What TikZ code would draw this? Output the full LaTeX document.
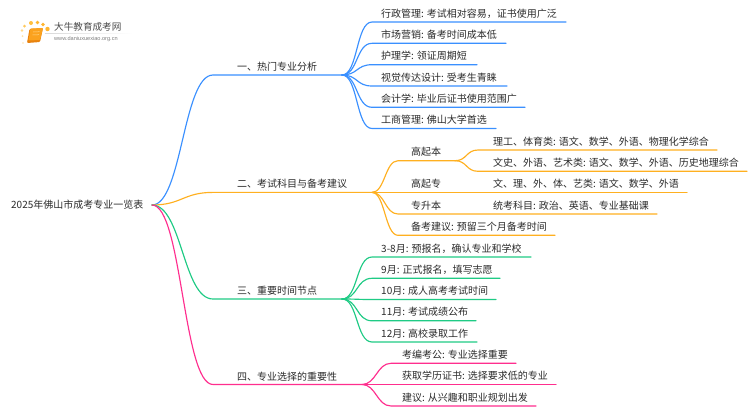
\documentclass[tikz,border=0pt]{standalone}
\usepackage{fontspec}
\setmainfont{Noto Sans CJK SC}
\newfontfamily\logourl{Liberation Sans}
\definecolor{cblue}{HTML}{3A90FF}
\definecolor{corange}{HTML}{FFB020}
\definecolor{cgreen}{HTML}{1FCB85}
\definecolor{cpink}{HTML}{FF2E8E}
\definecolor{ctext}{HTML}{2B2B2B}
\definecolor{bookdark}{HTML}{E8820E}
\definecolor{booklight}{HTML}{FBA21E}
\definecolor{bookline}{HTML}{FFD78A}
\tikzset{
  lbl/.style={anchor=west,inner sep=0pt,font=\fontsize{10}{12}\selectfont,text=ctext},
  conn/.style={line width=1.15pt,line cap=round,line join=round}
}
% parent, name, curve end x, text x, line end x, y, colour, control offset, text
\newcommand{\leafitem}[9]{%
  \coordinate (#2s) at (#3,#6);
  \coordinate (#2e) at (#5,#6);
  \node[lbl] (#2) at (#4,#6-8.7) {#9};
  \draw[conn,#7] (#1) .. controls +(#8,0) and +(-#8,0) .. (#2s) -- (#2e);
}
\begin{document}
\begin{tikzpicture}[x=1pt,y=-1pt]
\useasboundingbox (0,0) rectangle (750,410);
\fill[white] (0,0) rectangle (750,410);
% logo
\foreach \px/\py/\pr/\pc in {22/30.5/1.3/FFD98A,22.5/36/1/FFE2A8,23/43/0.9/FFE2A8,24.5/26/1.5/FFC95C,31/23/2/FFC040,37.5/22.5/1.9/FFB52E,43/24.5/1.9/FFB52E,47.5/29/2.2/FFB52E}{
  \definecolor{dc}{HTML}{\pc}
  \fill[dc] (\px,\py) circle (\pr);
}
\fill[bookdark,rounded corners=1pt] (29.5,29) -- (43,28) -- (40,42) -- (27,43) -- cycle;
\fill[booklight,rounded corners=0.8pt] (30.5,28.5) -- (43,28) -- (40,40) -- (28.5,40.5) -- cycle;
\draw[bookline,line width=0.5pt] (33,32) -- (39.5,31.7) (32.5,35) -- (39,34.7);
\node[inner sep=0pt,anchor=west,font=\fontsize{9.6}{11}\selectfont,text=ctext!85!white] (logoname) at (54,27) {大牛教育成考网};
\shade[left color=gray!30,right color=white] (45,33) rectangle (133,33.5);
\node[inner sep=0pt,anchor=west,font=\logourl\fontsize{5.6}{7}\selectfont,text=gray] (logourl) at (54,38.7) {www.daniuxuexiao.org.cn};
% root
\node[lbl] (root) at (11,205) {2025年佛山市成考专业一览表};
\coordinate (rootp) at (152,205);
% branch 1
\coordinate (b1s) at (213,75); \coordinate (b1e) at (342,75);
\node[lbl] (b1) at (237,67) {一、热门专业分析};
\draw[conn,cblue] (rootp) .. controls +(30,0) and +(-30,0) .. (b1s) -- (b1e);
\leafitem{b1e}{a1}{372}{381}{566}{22}{cblue}{16}{行政管理: 考试相对容易，证书使用广泛}
\leafitem{b1e}{a2}{372}{381}{506}{43.3}{cblue}{16}{市场营销: 备考时间成本低}
\leafitem{b1e}{a3}{372}{381}{477}{64.7}{cblue}{16}{护理学: 领证周期短}
\leafitem{b1e}{a4}{372}{381}{507}{86}{cblue}{16}{视觉传达设计: 受考生青睐}
\leafitem{b1e}{a5}{372}{381}{525}{107.3}{cblue}{16}{会计学: 毕业后证书使用范围广}
\leafitem{b1e}{a6}{372}{381}{496}{128.5}{cblue}{16}{工商管理: 佛山大学首选}
% branch 2
\coordinate (b2s) at (213,192.4); \coordinate (b2e) at (372,192.4);
\node[lbl] (b2) at (237,184) {二、考试科目与备考建议};
\draw[conn,corange] (rootp) .. controls +(30,0) and +(-30,0) .. (b2s) -- (b2e);
\coordinate (gbs) at (398,160.7); \coordinate (gbe) at (455,160.7);
\node[lbl] (gb) at (411,152) {高起本};
\draw[conn,corange] (b2e) .. controls +(13,0) and +(-13,0) .. (gbs) -- (gbe);
\leafitem{gbe}{c1}{478}{493}{717}{150}{corange}{12}{理工、体育类: 语文、数学、外语、物理化学综合}
\leafitem{gbe}{c2}{478}{493}{747}{171.3}{corange}{12}{文史、外语、艺术类: 语文、数学、外语、历史地理综合}
\coordinate (gzs) at (400,192.4);
\node[lbl] (gz) at (411,183.5) {高起专};
\coordinate (c3e) at (687,192.4);
\node[lbl] (c3) at (493,183.5) {文、理、外、体、艺类: 语文、数学、外语};
\draw[conn,corange] (b2e) -- (gzs) -- (c3e);
\coordinate (zss) at (398,214);
\node[lbl] (zs) at (411,205.3) {专升本};
\coordinate (c4e) at (657,214);
\node[lbl] (c4) at (493,205.3) {统考科目: 政治、英语、专业基础课};
\draw[conn,corange] (b2e) .. controls +(13,0) and +(-13,0) .. (zss) -- (c4e);
\leafitem{b2e}{c5}{398}{411}{555}{235.3}{corange}{13}{备考建议: 预留三个月备考时间}
% branch 3
\coordinate (b3s) at (213,299); \coordinate (b3e) at (342,299);
\node[lbl] (b3) at (237,291) {三、重要时间节点};
\draw[conn,cgreen] (rootp) .. controls +(30,0) and +(-30,0) .. (b3s) -- (b3e);
\leafitem{b3e}{d1}{372}{381}{531}{257}{cgreen}{16}{3-8月: 预报名，确认专业和学校}
\leafitem{b3e}{d2}{372}{381}{500}{278.3}{cgreen}{16}{9月: 正式报名，填写志愿}
\leafitem{b3e}{d3}{372}{381}{496}{299.5}{cgreen}{16}{10月: 成人高考考试时间}
\leafitem{b3e}{d4}{372}{381}{476}{320.8}{cgreen}{16}{11月: 考试成绩公布}
\leafitem{b3e}{d5}{372}{381}{477}{342}{cgreen}{16}{12月: 高校录取工作}
% branch 4
\coordinate (b4s) at (213,384.5); \coordinate (b4e) at (362,384.5);
\node[lbl] (b4) at (237,376.5) {四、专业选择的重要性};
\draw[conn,cpink] (rootp) .. controls +(30,0) and +(-30,0) .. (b4s) -- (b4e);
\leafitem{b4e}{e1}{391}{402}{516}{363.3}{cpink}{14}{考编考公: 专业选择重要}
\leafitem{b4e}{e2}{391}{402}{556}{384.5}{cpink}{14}{获取学历证书: 选择要求低的专业}
\leafitem{b4e}{e3}{391}{402}{536}{406}{cpink}{14}{建议: 从兴趣和职业规划出发}
\end{tikzpicture}
\end{document}
